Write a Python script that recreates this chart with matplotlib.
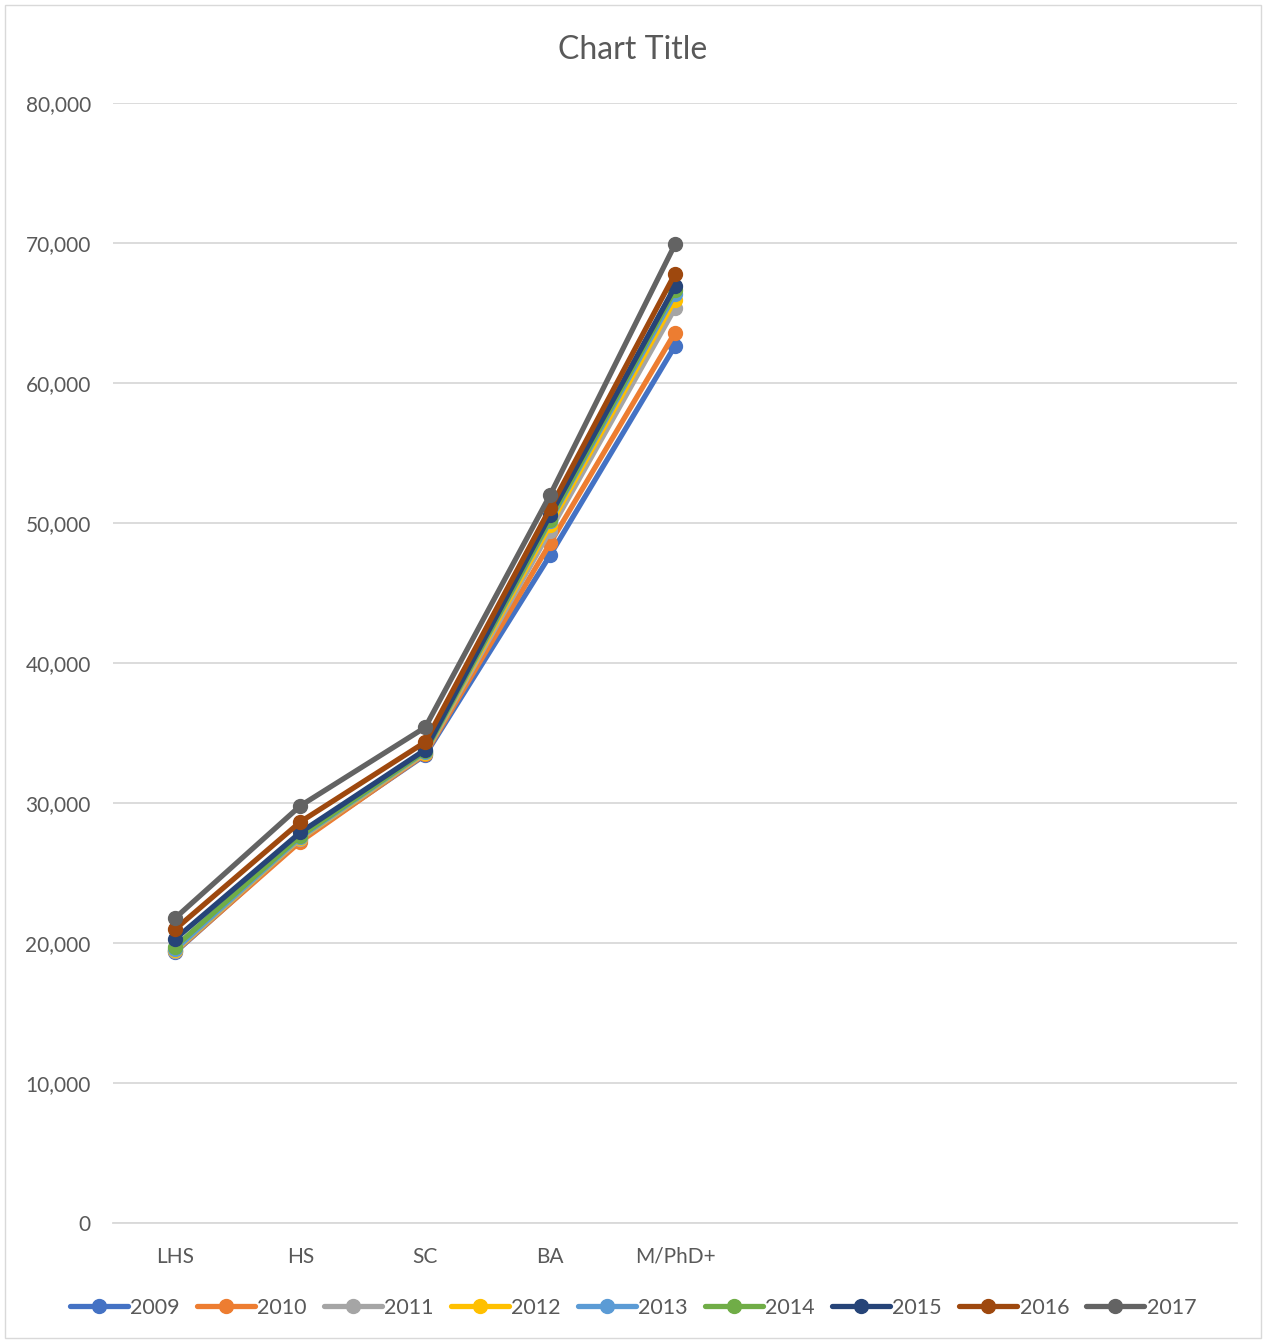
import matplotlib.pyplot as plt
from matplotlib.ticker import FuncFormatter, MultipleLocator

plt.rcParams['font.family'] = ['Lato', 'DejaVu Sans']

# categories (9 slots in the original sheet, only the first five filled)
categories = ["LHS", "HS", "SC", "BA", "M/PhD+", "", "", "", ""]
years = ["2009", "2010", "2011", "2012", "2013", "2014", "2015", "2016", "2017"]

v2009 = [19350, 27350, 33430, 47700, 62650]
v2010 = [19400, 27240, 33500, 48550, 63600]
v2011 = [19450, 27450, 33550, 49450, 65350]
v2012 = [19500, 27500, 33600, 49850, 65950]
v2013 = [19550, 27550, 33650, 50150, 66350]
v2014 = [19750, 27650, 33700, 50250, 66650]
v2015 = [20300, 27900, 33800, 50550, 66900]
v2016 = [21000, 28650, 34350, 51050, 67800]
v2017 = [21800, 29800, 35400, 52000, 69900]

series = [v2009, v2010, v2011, v2012, v2013, v2014, v2015, v2016, v2017]
colors = ["#4472C4", "#ED7D31", "#A5A5A5", "#FFC000", "#5B9BD5",
          "#70AD47", "#264478", "#9E480E", "#636363"]

fig = plt.figure(figsize=(12.66, 13.43), dpi=100)
ax = fig.add_axes([113/1266, 1-1223/1343, 1124/1266, 1120/1343])

for i in range(len(series)):
    ax.plot(range(len(series[i])), series[i], color=colors[i], lw=3.8,
            marker="o", ms=10, label=years[i], solid_capstyle="round")

ax.set_xlim(-0.5, len(categories) - 0.5)
ax.set_ylim(0, 80000)
ax.set_xticks(range(len(categories)))
ax.set_xticklabels(categories)
ax.yaxis.set_major_locator(MultipleLocator(10000))
ax.yaxis.set_major_formatter(FuncFormatter(lambda v, p: f"{int(v):,}"))
ax.grid(axis="y", color="#D9D9D9", lw=1.3)
ax.set_axisbelow(True)
for s in ["top", "right", "left"]:
    ax.spines[s].set_visible(False)
ax.spines["bottom"].set_color("#D9D9D9")
ax.spines["bottom"].set_linewidth(1.3)
ax.tick_params(length=0, labelsize=15, colors="#595959")
ax.tick_params(axis="x", pad=17)
ax.tick_params(axis="y", pad=16)

fig.text(0.5, 1-50/1343, "Chart Title", ha="center", va="center",
         fontsize=23, color="#595959")

fig.legend(loc="center", bbox_to_anchor=(0.5, 1-1308/1343), ncol=9,
           frameon=False, fontsize=15.5, handlelength=2.7, handletextpad=0.1,
           columnspacing=0.8, labelcolor="#595959")

# light border round the chart
fig.patches.append(plt.Rectangle((0.004, 0.004), 0.992, 0.992,
                                 transform=fig.transFigure, fill=False,
                                 ec="#D9D9D9", lw=1))

fig.savefig("out.png", dpi=100)
